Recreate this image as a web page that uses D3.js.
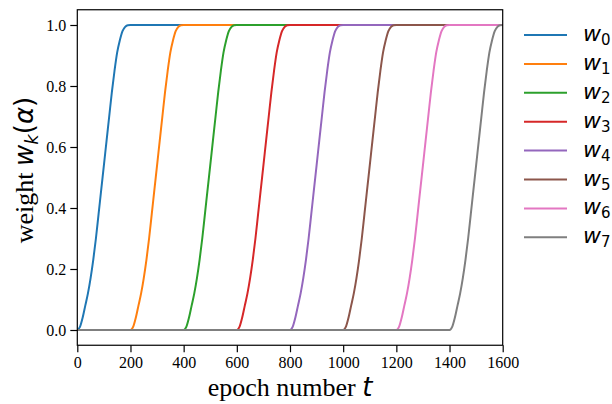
<!DOCTYPE html>
<html>
<head>
<meta charset="utf-8">
<script src="https://cdn.jsdelivr.net/npm/d3@7"></script>
<style>
  body { margin: 0; background: #fff; }
</style>
</head>
<body>
<svg id="chart" width="612" height="404"></svg>
<script>
// series names, start epoch of each ramp and colours
var seriesNames = ["0", "1", "2", "3", "4", "5", "6", "7"];
var onsets = [0, 200, 400, 600, 800, 1000, 1200, 1400];
var colors = ["#1f77b4", "#ff7f0e", "#2ca02c", "#d62728", "#9467bd", "#8c564b", "#e377c2", "#7f7f7f"];

// shape of one ramp (epochs after onset -> weight)
var rampT = [0, 10, 20, 30, 40, 50, 60, 70, 80, 90, 100, 110, 120, 130, 140, 150, 160, 170, 180, 190, 200];
var rampW = [0, 0.01, 0.04, 0.08, 0.12, 0.17, 0.23, 0.30, 0.38, 0.46, 0.54, 0.62, 0.70, 0.78, 0.85, 0.91, 0.95, 0.98, 0.994, 0.9995, 1];

var xTicks = [0, 200, 400, 600, 800, 1000, 1200, 1400, 1600];
var yTicks = [0, 0.2, 0.4, 0.6, 0.8, 1.0];

var serif = "'Liberation Serif', serif";
var mathFont = "'DejaVu Sans', sans-serif";

var margin = {left: 77.3, right: 612 - 502.7, top: 9.75, bottom: 404 - 345.25};
var width = 612 - margin.left - margin.right,
    height = 404 - margin.top - margin.bottom;

var svg = d3.select("#chart");
var g = svg.append("g").attr("transform", "translate(" + margin.left + "," + margin.top + ")");

var x = d3.scaleLinear().domain([0, 1600]).range([0, width]);
var y = d3.scaleLinear().domain([-0.05, 1.05]).range([height, 0]);

g.append("clipPath").attr("id", "clip")
  .append("rect").attr("width", width).attr("height", height);

// build each curve from the ramp shape
var curves = onsets.map(function(o) {
  var pts = [];
  if (o > 0) pts.push([0, 0]);
  rampT.forEach(function(t, i) { pts.push([o + t, rampW[i]]); });
  if (o + 200 < 1600) pts.push([1600, 1]);
  return pts;
});

var line = d3.line()
  .curve(d3.curveMonotoneX)
  .x(function(d) { return x(d[0]); })
  .y(function(d) { return y(d[1]); });

g.append("g").attr("clip-path", "url(#clip)")
  .selectAll("path")
  .data(curves)
  .enter()
  .append("path")
  .attr("d", line)
  .attr("fill", "none")
  .attr("stroke", function(d, i) { return colors[i]; })
  .attr("stroke-width", 2);

// axes
var xAxis = g.append("g")
  .attr("transform", "translate(0," + height + ")")
  .call(d3.axisBottom(x).tickValues(xTicks).tickSize(7).tickPadding(4).tickFormat(d3.format("d")));
var yAxis = g.append("g")
  .call(d3.axisLeft(y).tickValues(yTicks).tickSize(7).tickPadding(4).tickFormat(d3.format(".1f")));
[xAxis, yAxis].forEach(function(a) {
  a.attr("font-family", serif).attr("font-size", 16);
  a.select(".domain").remove();
  a.selectAll(".tick line").attr("stroke", "#000").attr("stroke-width", 1.2);
  a.selectAll(".tick text").attr("fill", "#000").style("font-family", serif);
});

// frame
g.append("rect")
  .attr("width", width).attr("height", height)
  .attr("fill", "none").attr("stroke", "#000").attr("stroke-width", 1.2);

// axis titles
var xl = svg.append("text")
  .attr("x", margin.left + width / 2).attr("y", 396)
  .attr("text-anchor", "middle")
  .style("font-family", serif).style("font-size", "26px");
xl.append("tspan").text("epoch number ");
xl.append("tspan").style("font-family", mathFont).style("font-style", "italic").text("t");

var yl = svg.append("text")
  .attr("transform", "translate(33," + 170 + ") rotate(-90)")
  .attr("text-anchor", "middle")
  .style("font-family", serif).style("font-size", "26px");
yl.append("tspan").text("weight ");
yl.append("tspan").style("font-family", mathFont).style("font-style", "italic").text("w");
yl.append("tspan").style("font-family", mathFont).style("font-style", "italic").style("font-size", "18px").attr("dy", 5).text("k");
yl.append("tspan").style("font-family", mathFont).attr("dy", -5).text("(");
yl.append("tspan").style("font-family", mathFont).style("font-style", "italic").text("α");
yl.append("tspan").style("font-family", mathFont).text(")");

// legend
var leg = svg.append("g");
seriesNames.forEach(function(s, i) {
  var ly = 35 + i * 28.9;
  leg.append("line")
    .attr("x1", 524).attr("x2", 567).attr("y1", ly).attr("y2", ly)
    .attr("stroke", colors[i]).attr("stroke-width", 2);
  var t = leg.append("text").attr("x", 583).attr("y", ly + 6)
    .style("font-family", mathFont).style("font-size", "22px");
  t.append("tspan").style("font-style", "italic").text("w");
  t.append("tspan").style("font-size", "15px").attr("dy", 4).text(s);
});
</script>
</body>
</html>
